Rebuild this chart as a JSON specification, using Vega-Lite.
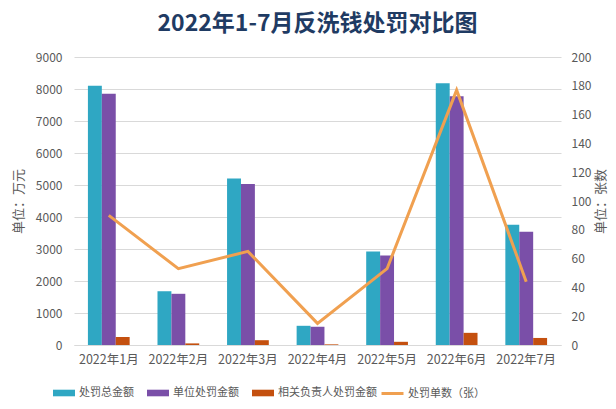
{
  "$schema": "https://vega.github.io/schema/vega-lite/v6.json",
  "width": 616,
  "height": 409,
  "autosize": {"type": "fit", "contains": "padding"},
  "padding": {"left": 12, "right": 8, "top": 13, "bottom": 43},
  "background": "white",
  "title": {
    "text": "2022年1-7月反洗钱处罚对比图",
    "fontSize": 23,
    "fontWeight": "bold",
    "font": "Noto Sans CJK SC",
    "color": "#1F3B63",
    "offset": 15
  },
  "datasets": {
    "amounts": [
      {"month": "2022年1月", "series": "处罚总金额", "value": 8100},
      {"month": "2022年1月", "series": "单位处罚金额", "value": 7850},
      {"month": "2022年1月", "series": "相关负责人处罚金额", "value": 250},
      {"month": "2022年2月", "series": "处罚总金额", "value": 1680},
      {"month": "2022年2月", "series": "单位处罚金额", "value": 1600},
      {"month": "2022年2月", "series": "相关负责人处罚金额", "value": 50},
      {"month": "2022年3月", "series": "处罚总金额", "value": 5200},
      {"month": "2022年3月", "series": "单位处罚金额", "value": 5030},
      {"month": "2022年3月", "series": "相关负责人处罚金额", "value": 150},
      {"month": "2022年4月", "series": "处罚总金额", "value": 600},
      {"month": "2022年4月", "series": "单位处罚金额", "value": 570},
      {"month": "2022年4月", "series": "相关负责人处罚金额", "value": 20},
      {"month": "2022年5月", "series": "处罚总金额", "value": 2920},
      {"month": "2022年5月", "series": "单位处罚金额", "value": 2800},
      {"month": "2022年5月", "series": "相关负责人处罚金额", "value": 100},
      {"month": "2022年6月", "series": "处罚总金额", "value": 8180},
      {"month": "2022年6月", "series": "单位处罚金额", "value": 7770},
      {"month": "2022年6月", "series": "相关负责人处罚金额", "value": 380},
      {"month": "2022年7月", "series": "处罚总金额", "value": 3760},
      {"month": "2022年7月", "series": "单位处罚金额", "value": 3540},
      {"month": "2022年7月", "series": "相关负责人处罚金额", "value": 220}
    ],
    "counts": [
      {"month": "2022年1月", "series": "处罚单数（张）", "count": 90},
      {"month": "2022年2月", "series": "处罚单数（张）", "count": 53},
      {"month": "2022年3月", "series": "处罚单数（张）", "count": 65},
      {"month": "2022年4月", "series": "处罚单数（张）", "count": 15},
      {"month": "2022年5月", "series": "处罚单数（张）", "count": 53},
      {"month": "2022年6月", "series": "处罚单数（张）", "count": 177},
      {"month": "2022年7月", "series": "处罚单数（张）", "count": 44}
    ]
  },
  "config": {
    "font": "Noto Sans CJK SC",
    "view": {"stroke": null},
    "axis": {
      "labelColor": "#595959",
      "labelFontSize": 12,
      "titleColor": "#595959",
      "titleFontWeight": "normal",
      "titleFontSize": 13,
      "gridColor": "#D9D9D9",
      "ticks": false,
      "domain": false
    },
    "legend": {
      "labelColor": "#595959",
      "labelFontSize": 11,
      "direction": "horizontal",
      "orient": "none",
      "title": null
    }
  },
  "encoding": {
    "x": {
      "field": "month",
      "type": "nominal",
      "sort": null,
      "title": null,
      "scale": {"paddingInner": 0.4, "paddingOuter": 0.2},
      "axis": {"labelAngle": 0, "domain": true, "domainColor": "#D9D9D9", "labelPadding": 8, "labelFontSize": 12.5}
    }
  },
  "layer": [
    {
      "data": {"name": "amounts"},
      "mark": {"type": "bar"},
      "encoding": {
        "xOffset": {"field": "series", "type": "nominal", "sort": ["处罚总金额", "单位处罚金额", "相关负责人处罚金额"], "scale": {"paddingInner": 0}},
        "y": {
          "field": "value",
          "type": "quantitative",
          "scale": {"domain": [0, 9000]},
          "axis": {"values": [0,1000,2000,3000,4000,5000,6000,7000,8000,9000], "title": "单位：万元", "titlePadding": 10, "labelPadding": 12, "format": "d"}
        },
        "color": {
          "field": "series",
          "type": "nominal",
          "sort": ["处罚总金额", "单位处罚金额", "相关负责人处罚金额"],
          "scale": {"domain": ["处罚总金额", "单位处罚金额", "相关负责人处罚金额"], "range": ["#2FA7C3", "#7A4FA8", "#C4500F"]},
          "legend": {
            "legendX": -22,
            "legendY": 324,
            "symbolType": "M-1,-0.3L1,-0.3L1,0.3L-1,0.3Z",
            "symbolSize": 484,
            "symbolOpacity": 1,
            "columnPadding": 12,
            "labelOffset": 3
          }
        }
      }
    },
    {
      "data": {"name": "counts"},
      "mark": {"type": "line", "strokeWidth": 3, "color": "#F0A050"},
      "encoding": {
        "y": {
          "field": "count",
          "type": "quantitative",
          "scale": {"domain": [0, 200]},
          "axis": {"orient": "right", "values": [0,20,40,60,80,100,120,140,160,180,200], "title": "单位：张数", "titleAngle": 270, "titleBaseline": "top", "titlePadding": 4, "labelPadding": 10, "grid": false}
        },
        "stroke": {
          "field": "series",
          "type": "nominal",
          "scale": {"range": ["#F0A050"]},
          "legend": {
            "legendX": 306,
            "legendY": 324,
            "symbolType": "stroke",
            "symbolSize": 484,
            "symbolStrokeWidth": 3,
            "labelOffset": 3
          }
        }
      }
    }
  ],
  "resolve": {"scale": {"y": "independent"}}
}
